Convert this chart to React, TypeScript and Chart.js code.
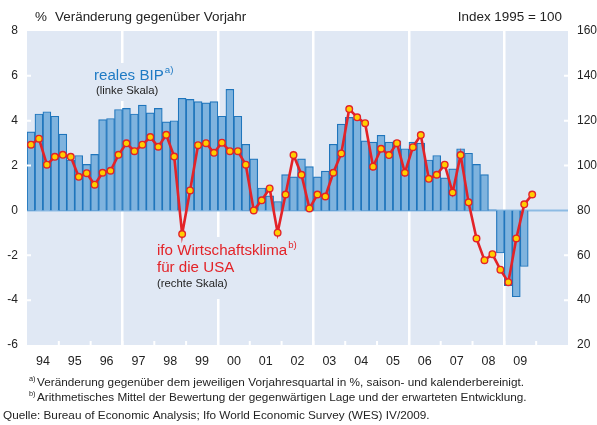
import React, { useEffect, useRef } from 'react';
import { Chart, registerables } from 'chart.js';

Chart.register(...registerables);

// Year tick labels (last, empty year = 2010 space)
const yearTicks = ['94', '95', '96', '97', '98', '99', '00', '01', '02', '03', '04', '05', '06', '07', '08', '09', ''];

// Real GDP USA, % change on previous year's quarter (left scale), 1994Q1 .. 2009Q3
const gdp = [
  3.5, 4.3, 4.4, 4.2,
  3.4, 2.25, 2.45, 2.05,
  2.5, 4.05, 4.1, 4.5,
  4.55, 4.3, 4.7, 4.35,
  4.55, 3.95, 4.0, 5.0,
  4.95, 4.85, 4.8, 4.85,
  4.2, 5.4, 4.2, 2.95,
  2.3, 1.0, 0.65, 0.4,
  1.6, 1.5, 2.3, 1.95,
  1.5, 1.75, 2.95, 3.85,
  4.15, 4.1, 3.1, 3.05,
  3.35, 3.05, 3.1, 2.75,
  3.05, 3.0, 2.25, 2.45,
  1.45, 1.85, 2.75, 2.55,
  2.05, 1.6, 0.03, -1.9,
  -3.35, -3.85, -2.5,
];

// ifo economic climate USA, index 1995 = 100 (right scale), 1994Q1 .. 2009Q4
const ifo = [
  109.3, 112.0, 100.4, 103.9,
  104.8, 103.9, 95.0, 96.6,
  91.5, 96.8, 97.7, 104.8,
  109.9, 106.4, 109.3, 112.7,
  108.4, 113.7, 104.0, 69.5,
  88.9, 109.1, 110.0, 105.7,
  110.2, 106.4, 106.4, 100.4,
  80.0, 84.5, 89.8, 70.1,
  87.1, 104.7, 95.9, 80.9,
  87.1, 86.2, 96.8, 105.4,
  125.2, 121.5, 118.9, 99.5,
  107.5, 104.7, 110.0, 96.8,
  108.2, 113.6, 94.1, 95.9,
  100.4, 88.0, 104.7, 83.6,
  67.5, 57.8, 60.5, 53.6,
  48.0, 67.5, 82.7, 87.1,
];

const FONT = "'Liberation Sans', Arial, Helvetica, sans-serif";
const BG = 'rgb(224,232,244)';
const BAR_FILL = 'rgb(127,179,222)';
const BAR_BORDER = 'rgb(31,117,188)';
const RED = 'rgb(227,35,40)';
const YELLOW = 'rgb(255,206,0)';
const TEXT = 'rgb(35,35,35)';
const BLUE_TEXT = 'rgb(30,122,196)';

function txt(ctx: CanvasRenderingContext2D, s: string, x: number, y: number, size: number, color: string, sx = 1, align: CanvasTextAlign = 'left') {
  ctx.save();
  ctx.font = `${size}px ${FONT}`;
  ctx.fillStyle = color;
  ctx.textBaseline = 'alphabetic';
  ctx.textAlign = align;
  ctx.translate(x, y);
  ctx.scale(sx, 1);
  ctx.fillText(s, 0, 0);
  ctx.restore();
}
function width(ctx: CanvasRenderingContext2D, s: string, size: number, sx = 1) {
  ctx.save();
  ctx.font = `${size}px ${FONT}`;
  const w = ctx.measureText(s).width * sx;
  ctx.restore();
  return w;
}

export default function App() {
  const ref = useRef<HTMLCanvasElement>(null);

  useEffect(() => {
    const canvas = ref.current;
    if (!canvas) return;
    const n = yearTicks.length * 4;
    const labels = Array.from({ length: n }, (_, i) => `${yearTicks[Math.floor(i / 4)] || '10'} Q${(i % 4) + 1}`);
    const pad = (arr: number[]) => labels.map((_, i) => (i < arr.length ? arr[i] : null));

    const deco = {
      id: 'deco',
      beforeDraw(chart: any) {
        const { ctx, chartArea: a } = chart;
        ctx.save();
        ctx.fillStyle = BG;
        ctx.fillRect(a.left, a.top, a.right - a.left, a.bottom - a.top);
        ctx.restore();
      },
      beforeDatasetsDraw(chart: any) {
        const { ctx, chartArea: a, scales } = chart;
        const y0 = scales.y.getPixelForValue(0);
        ctx.save();
        // boxes behind the series labels
        ctx.fillStyle = BG;
        ctx.fillRect(90, 63, 92, 38);
        ctx.fillRect(150, 237, 162, 62);
        // zero line
        ctx.strokeStyle = 'rgb(141,187,227)';
        ctx.lineWidth = 2;
        ctx.beginPath();
        ctx.moveTo(a.left, y0);
        ctx.lineTo(a.right, y0);
        ctx.stroke();
        ctx.restore();

        // series labels
        const sx = 1.08;
        txt(ctx, 'reales BIP', 94, 80, 14, BLUE_TEXT, sx);
        const w1 = width(ctx, 'reales BIP', 14, sx);
        txt(ctx, 'a)', 94 + w1 + 1, 73, 9, BLUE_TEXT, sx);
        txt(ctx, '(linke Skala)', 96, 94, 10.5, TEXT, sx);

        txt(ctx, 'ifo Wirtschaftsklima', 157, 255, 14, RED, sx);
        const w2 = width(ctx, 'ifo Wirtschaftsklima', 14, sx);
        txt(ctx, 'b)', 157 + w2 + 1, 248, 9, RED, sx);
        txt(ctx, 'für die USA', 157, 272, 14, RED, sx);
        txt(ctx, '(rechte Skala)', 157, 287, 10.5, TEXT, sx);
      },
      afterDatasetsDraw(chart: any) {
        const { ctx, chartArea: a, scales } = chart;
        ctx.save();
        ctx.strokeStyle = '#ffffff';
        ctx.lineWidth = 2;
        ctx.beginPath();
        scales.y.ticks.forEach((t: any) => {
          const y = scales.y.getPixelForValue(t.value);
          if (y <= a.top + 1 || y >= a.bottom - 1 || t.value === 0) return;
          ctx.moveTo(a.left, y);
          ctx.lineTo(a.left + 4, y);
          ctx.moveTo(a.right - 4, y);
          ctx.lineTo(a.right, y);
        });
        const step = (a.right - a.left) / n;
        for (let i = 4; i < n; i += 4) {
          const x = a.left + i * step;
          ctx.moveTo(x, a.bottom);
          ctx.lineTo(x, a.bottom - 4);
        }
        ctx.stroke();
        ctx.restore();
      },
      afterDraw(chart: any) {
        const { ctx } = chart;
        const sx = 1.12;
        txt(ctx, '%', 35, 21, 12, TEXT, sx);
        txt(ctx, 'Veränderung gegenüber Vorjahr', 55, 21, 12, TEXT, sx);
        txt(ctx, 'Index 1995 = 100', 562, 21, 12, TEXT, sx, 'right');

        const fs = 10.5;
        const fx = 1.12;
        txt(ctx, 'a)', 29, 381, 6.5, TEXT, fx);
        txt(ctx, 'Veränderung gegenüber dem jeweiligen Vorjahresquartal in %, saison- und kalenderbereinigt.', 37, 386, fs, TEXT, fx);
        txt(ctx, 'b)', 29, 396, 6.5, TEXT, fx);
        txt(ctx, 'Arithmetisches Mittel der Bewertung der gegenwärtigen Lage und der erwarteten Entwicklung.', 37, 401, fs, TEXT, fx);
        txt(ctx, 'Quelle: Bureau of Economic Analysis; Ifo World Economic Survey (WES) IV/2009.', 3, 419, fs, TEXT, fx);
      },
    };

    const chart = new Chart(canvas, {
      type: 'bar',
      data: {
        labels,
        datasets: [
          {
            type: 'line',
            label: 'ifo Wirtschaftsklima für die USA',
            data: pad(ifo),
            yAxisID: 'y1',
            borderColor: RED,
            borderWidth: 2.6,
            pointRadius: 3.3,
            pointBorderWidth: 1.4,
            pointBackgroundColor: YELLOW,
            pointBorderColor: RED,
            tension: 0,
            order: 0,
          } as any,
          {
            type: 'bar',
            label: 'reales BIP',
            data: pad(gdp),
            yAxisID: 'y',
            backgroundColor: BAR_FILL,
            borderColor: BAR_BORDER,
            borderWidth: 1.2,
            barPercentage: 1,
            categoryPercentage: 1,
            order: 1,
          } as any,
        ],
      },
      options: {
        animation: false,
        responsive: false,
        devicePixelRatio: 1,
        layout: { padding: { top: 31, left: 0, right: 0, bottom: 0 } },
        plugins: { legend: { display: false }, tooltip: { enabled: false }, title: { display: false } },
        scales: {
          x: {
            type: 'category',
            offset: true,
            border: { display: false },
            grid: {
              offset: true,
              drawTicks: false,
              lineWidth: 2.5,
              color: (c: any) => (c.index > 0 && c.index < n && c.index % 12 === 0 ? '#ffffff' : 'rgba(0,0,0,0)'),
            },
            ticks: {
              autoSkip: false,
              maxRotation: 0,
              minRotation: 0,
              padding: 9,
              labelOffset: 4,
              color: TEXT,
              font: { family: FONT, size: 12.5 },
              callback: (_v: any, i: number) => (i % 4 === 1 ? yearTicks[Math.floor(i / 4)] : ''),
            },
            afterFit: (s: any) => { s.height = 80; },
          },
          y: {
            position: 'left',
            min: -6,
            max: 8,
            border: { display: false },
            grid: { display: false, drawTicks: false },
            ticks: { stepSize: 2, padding: 9, color: TEXT, font: { family: FONT, size: 12 } },
            afterFit: (s: any) => { s.width = 27; },
          },
          y1: {
            position: 'right',
            min: 20,
            max: 160,
            border: { display: false },
            grid: { display: false, drawTicks: false },
            ticks: { stepSize: 20, padding: 9, color: TEXT, font: { family: FONT, size: 12 } },
            afterFit: (s: any) => { s.width = 29; },
          },
        },
      },
      plugins: [deco],
    });
    return () => chart.destroy();
  }, []);

  return (
    <div style={{ position: 'fixed', left: 0, top: 0, width: 597, height: 425, background: '#fff' }}>
      <canvas ref={ref} width={597} height={425} />
    </div>
  );
}
